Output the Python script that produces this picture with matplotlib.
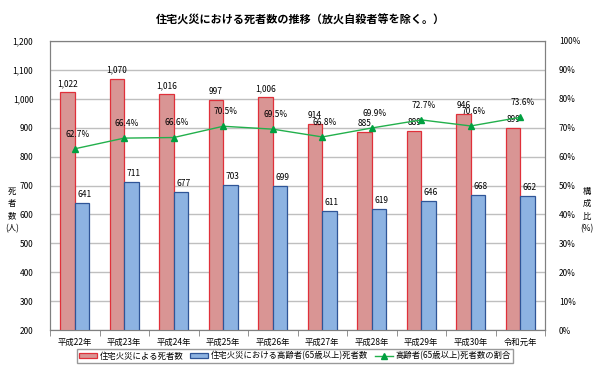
import matplotlib.pyplot as plt
import numpy as np
from matplotlib.ticker import FuncFormatter, MultipleLocator

plt.rcParams['font.family'] = ['Noto Sans CJK JP', 'DejaVu Sans']

years = ["平成22年", "平成23年", "平成24年", "平成25年", "平成26年",
         "平成27年", "平成28年", "平成29年", "平成30年", "令和元年"]
deaths = [1022, 1070, 1016, 997, 1006, 914, 885, 889, 946, 899]
elderly = [641, 711, 677, 703, 699, 611, 619, 646, 668, 662]
ratio = [62.7, 66.4, 66.6, 70.5, 69.5, 66.8, 69.9, 72.7, 70.6, 73.6]

fig = plt.figure(figsize=(6, 3.68), dpi=100)
ax = fig.add_axes([50/600, 1 - 330/368, 495/600, 289/368])
ax2 = ax.twinx()

x = np.arange(len(years))
w = 0.29
red_bars = ax.bar(x - w/2, deaths, width=w, color="#D99594", edgecolor="#E0303A",
                  linewidth=0.9, label="住宅火災による死者数", zorder=3)
blue_bars = ax.bar(x + w/2, elderly, width=w, color="#8DB3E2", edgecolor="#2F5597",
                   linewidth=0.9, label="住宅火災における高齢者(65歳以上)死者数", zorder=3)

for xi, v in zip(x, deaths):
    ax.text(xi - w/2, v + 14, f"{v:,}", ha="center", va="bottom", fontsize=6, zorder=5)
for xi, v in zip(x, elderly):
    ax.text(xi + w/2 + 0.05, v + 14, f"{v:,}", ha="center", va="bottom", fontsize=6, zorder=5)

ax.set_ylim(200, 1200)
ax.set_xlim(-0.5, len(years) - 0.5)
ax.yaxis.set_major_locator(MultipleLocator(100))
ax.yaxis.set_major_formatter(FuncFormatter(lambda v, p: f"{int(v):,}"))
ax.grid(axis="y", color="#BFBFBF", linewidth=1.0, zorder=0)
ax.set_axisbelow(True)
ax.set_xticks(x)
ax.set_xticklabels(years)
ax.set_xticks(np.arange(-0.5, len(years)), minor=True)
ax.tick_params(axis="x", which="major", length=0, labelsize=6, pad=6)
ax.tick_params(axis="x", which="minor", length=4, color="#808080")
ax.tick_params(axis="y", labelsize=6, length=0, pad=12)
for s in ax.spines.values():
    s.set_color("#808080")
for s in ax2.spines.values():
    s.set_color("#808080")

line, = ax2.plot(x, ratio, color="#22B04C", linewidth=1.0, marker="^", markersize=5,
                 markerfacecolor="#00A040", markeredgecolor="#00A040",
                 label="高齢者(65歳以上)死者数の割合", zorder=6)
for xi, v in zip(x, ratio):
    ax2.text(xi + 0.05, v + 3.5, f"{v}%", ha="center", va="bottom", fontsize=6, zorder=7)
ax2.set_ylim(0, 100)
ax2.yaxis.set_major_locator(MultipleLocator(10))
ax2.yaxis.set_major_formatter(FuncFormatter(lambda v, p: f"{int(v)}%"))
ax2.tick_params(axis="y", labelsize=6, length=0, pad=10)
ax2.set_zorder(ax.get_zorder() + 1)
ax2.patch.set_visible(False)

fig.text(0.5, 1 - 20/368, "住宅火災における死者数の推移（放火自殺者等を除く。）",
         ha="center", va="center", fontsize=8, fontweight="bold")
fig.text(12/600, 1 - 210/368, "死\n者\n数\n(人)", ha="center", va="center",
         fontsize=6, linespacing=1.5)
fig.text(587/600, 1 - 210/368, "構\n成\n比\n(%)", ha="center", va="center",
         fontsize=6, linespacing=1.5)

fig.legend(handles=[red_bars, blue_bars, line], loc="center",
           bbox_to_anchor=(295/600, 1 - 356/368), ncol=3, fontsize=6,
           frameon=True, fancybox=False, edgecolor="#808080",
           handlelength=2.2, handleheight=0.6, columnspacing=0.8,
           handletextpad=0.3, borderpad=0.25)

fig.savefig("out.png", dpi=100)
